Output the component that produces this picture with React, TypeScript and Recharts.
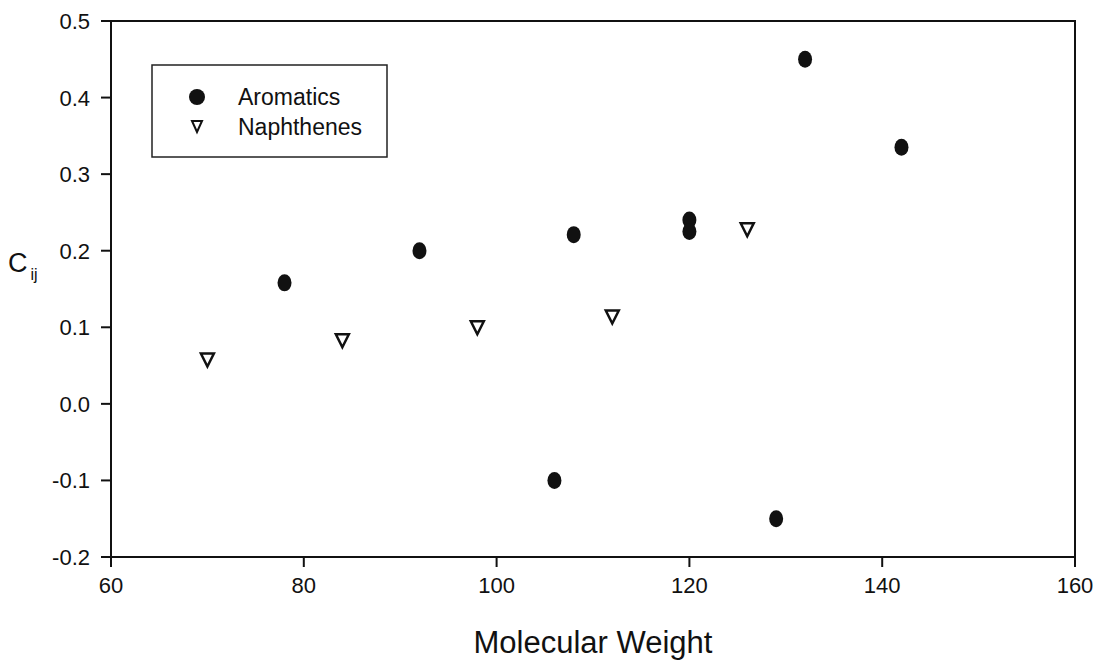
import { ScatterChart, Scatter, XAxis, YAxis, ReferenceArea } from "recharts";

const aromaticWeights = [78, 92, 106, 108, 120, 120, 129, 132, 142];
const aromaticCij = [0.158, 0.2, -0.1, 0.221, 0.24, 0.225, -0.15, 0.45, 0.335];

const naphtheneWeights = [70, 84, 98, 112, 126];
const naphtheneCij = [0.058, 0.083, 0.1, 0.114, 0.228];

const xTicks = [60, 80, 100, 120, 140, 160];
const yTicks = [-0.2, -0.1, 0, 0.1, 0.2, 0.3, 0.4, 0.5];

const aromatics = aromaticWeights.map((w, i) => ({ mw: w, c: aromaticCij[i] }));
const naphthenes = naphtheneWeights.map((w, i) => ({ mw: w, c: naphtheneCij[i] }));

const FONT = "'Liberation Sans', Arial, sans-serif";

// filled dot, slightly taller than wide like the scan
const Dot = (props: any) => {
  const { cx, cy } = props;
  if (cx == null || cy == null) return null;
  return <ellipse cx={cx} cy={cy} rx={7} ry={8.5} fill="#111" />;
};

// open down-pointing triangle
const Tri = (props: any) => {
  const { cx, cy } = props;
  if (cx == null || cy == null) return null;
  return (
    <path
      d={`M${cx - 6.5},${cy - 6} L${cx + 6.5},${cy - 6} L${cx},${cy + 7} Z`}
      fill="#fff"
      stroke="#111"
      strokeWidth={2.5}
      strokeLinejoin="miter"
    />
  );
};

const XTick = (props: any) => {
  const { x, y, payload } = props;
  return (
    <text x={x} y={y + 22} textAnchor="middle" fontFamily={FONT} fontSize={22} fill="#111">
      {payload.value}
    </text>
  );
};

const YTick = (props: any) => {
  const { x, y, payload } = props;
  return (
    <text x={x} y={y + 8} textAnchor="end" fontFamily={FONT} fontSize={22} fill="#111">
      {Number(payload.value).toFixed(1)}
    </text>
  );
};

const LegendBox = () => (
  <svg width={237} height={94} style={{ display: "block" }}>
    <rect x={1} y={1} width={235} height={92} fill="#fff" stroke="#222" strokeWidth={1.5} />
    <circle cx={46} cy={33} r={8} fill="#111" />
    <text x={87} y={41} fontFamily={FONT} fontSize={23} fill="#111">Aromatics</text>
    <path d="M41,57 L51,57 L46,68 Z" fill="#fff" stroke="#111" strokeWidth={2} />
    <text x={87} y={71} fontFamily={FONT} fontSize={23} fill="#111">Naphthenes</text>
  </svg>
);

const YLabel = () => (
  <text x={8} y={272} fontFamily={FONT} fill="#111">
    <tspan fontSize={27}>C</tspan>
    <tspan fontSize={16} dx={3} dy={8}>ij</tspan>
  </text>
);

export default function App() {
  return (
    <div style={{ position: "absolute", left: 0, top: 0, width: 1099, height: 667, background: "#fff" }}>
      <ScatterChart width={1099} height={667} margin={{ top: 21, right: 24, bottom: 0, left: 31 }}>
        <XAxis
          type="number"
          dataKey="mw"
          domain={[60, 160]}
          ticks={xTicks}
          allowDataOverflow
          height={110}
          tickSize={10}
          tickMargin={4}
          stroke="#111"
          strokeWidth={2}
          tick={<XTick />}
          label={{
            value: "Molecular Weight",
            position: "insideBottom",
            offset: 14,
            fill: "#111",
            fontSize: 31,
            fontFamily: FONT,
          }}
        />
        <YAxis
          type="number"
          dataKey="c"
          domain={[-0.2, 0.5]}
          ticks={yTicks}
          allowDataOverflow
          width={80}
          tickSize={10}
          tickMargin={11}
          stroke="#111"
          strokeWidth={2}
          tick={<YTick />}
          label={{ content: () => <YLabel /> }}
        />
        <ReferenceArea x1={60} x2={160} y1={-0.2} y2={0.5} fill="none" stroke="#111" strokeWidth={2} />
        <Scatter name="Aromatics" data={aromatics} shape={Dot} isAnimationActive={false} />
        <Scatter name="Naphthenes" data={naphthenes} shape={Tri} isAnimationActive={false} />
      </ScatterChart>
      <div style={{ position: "absolute", left: 151, top: 64 }}>
        <LegendBox />
      </div>
    </div>
  );
}
